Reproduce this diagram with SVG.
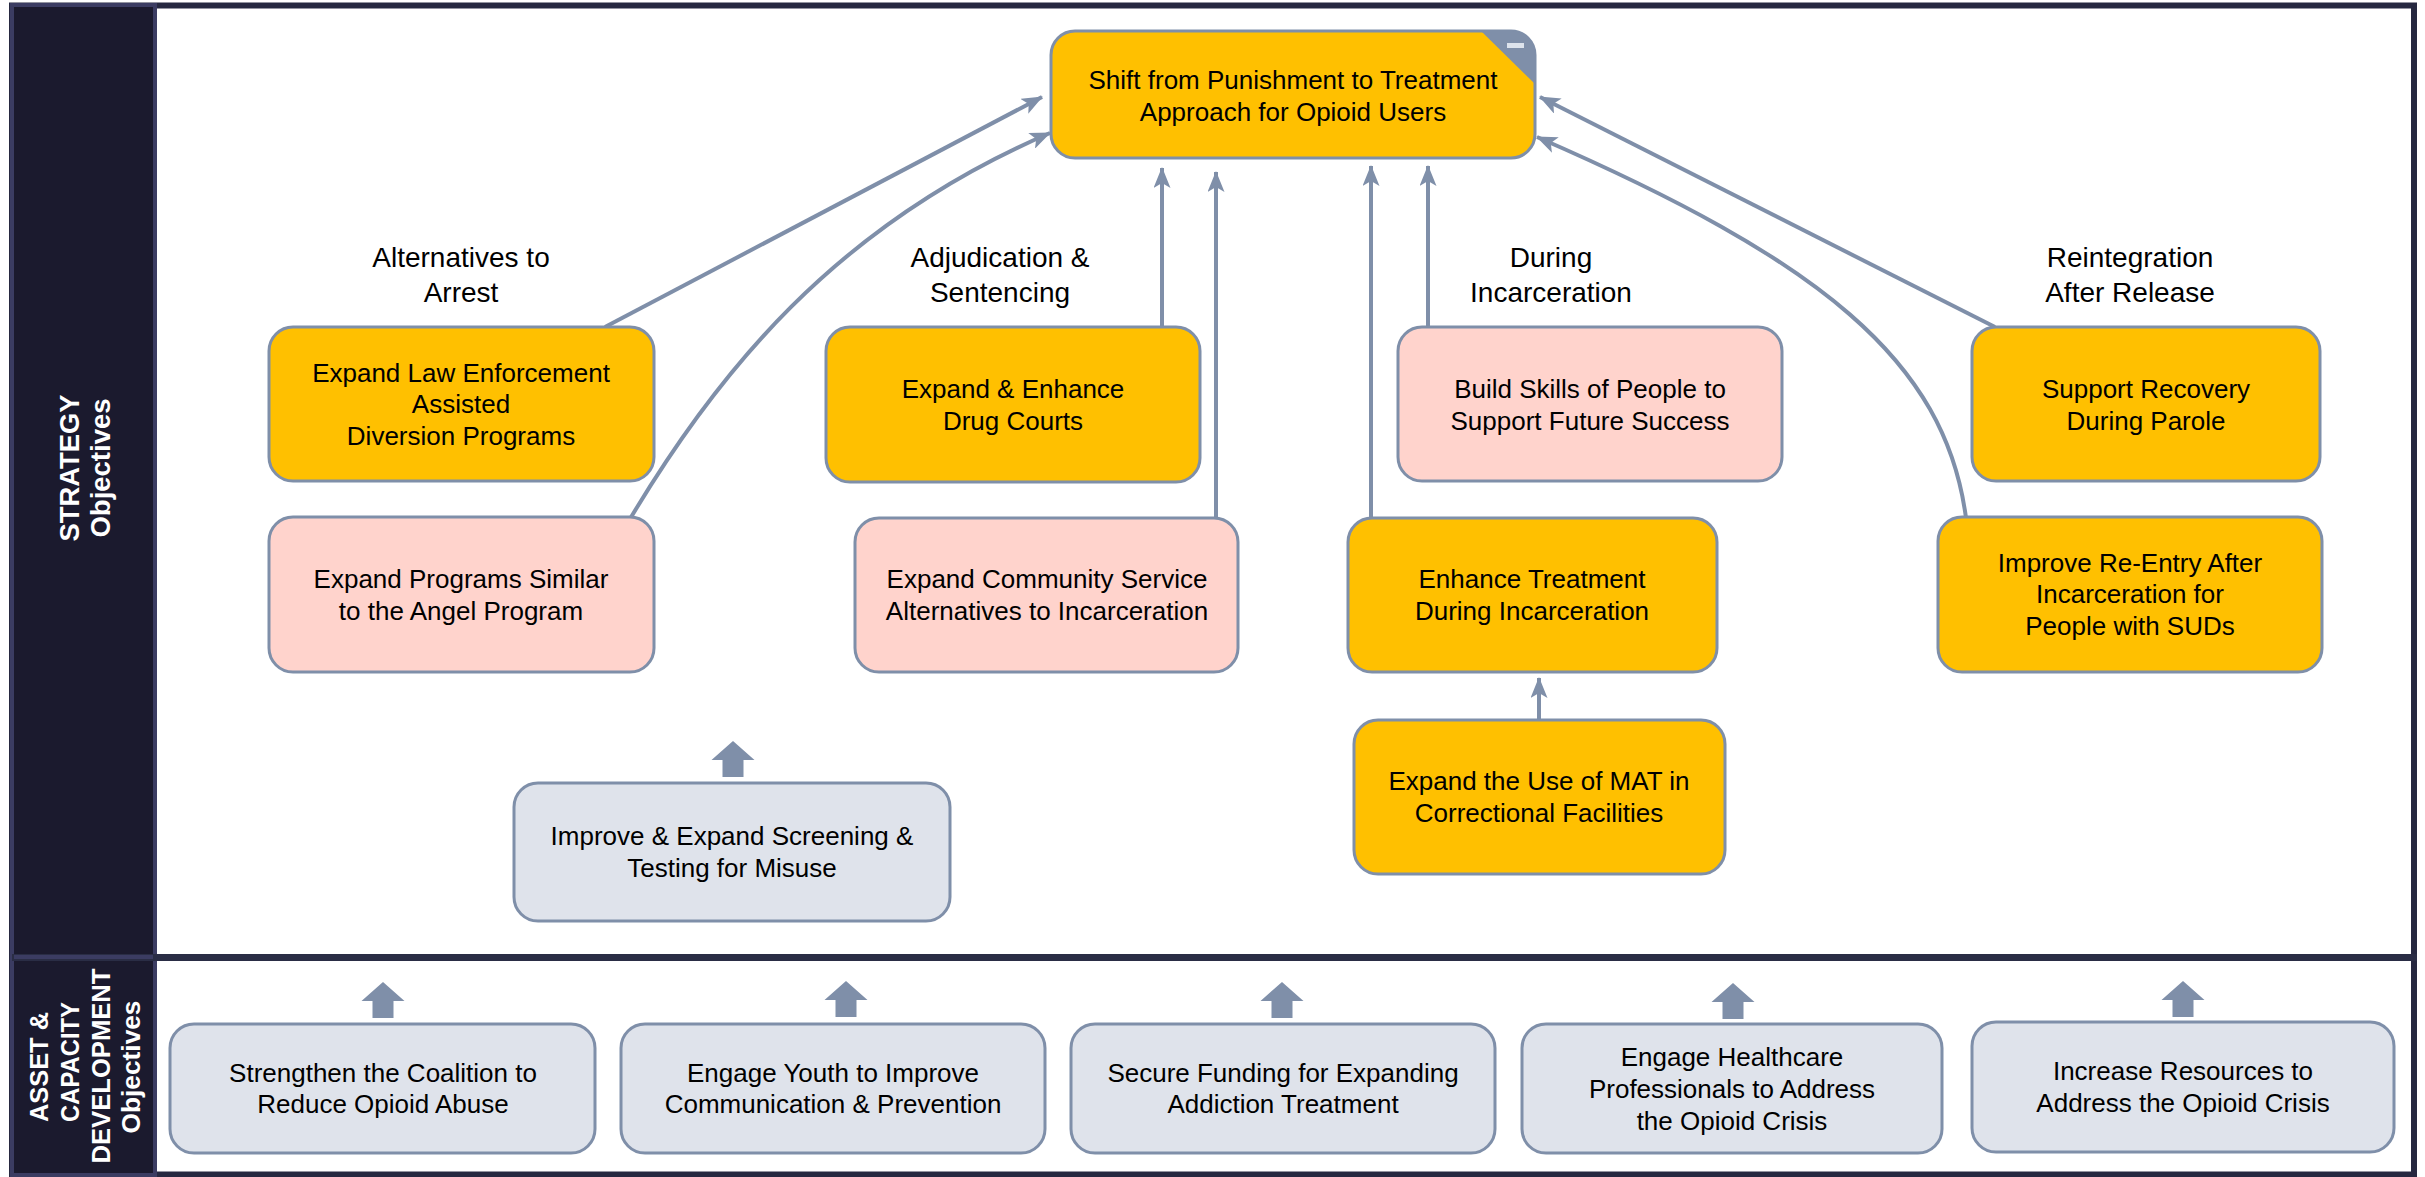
<svg xmlns="http://www.w3.org/2000/svg" xmlns:xlink="http://www.w3.org/1999/xlink" width="2425" height="1177" viewBox="0 0 2425 1177">
<style>
.nd{stroke:#7F8FA9;stroke-width:3}
.gold{fill:#FFC000}
.pink{fill:#FFD3CC}
.grey{fill:#DFE3EB}
.t{font-family:"Liberation Sans",Arial,sans-serif;font-size:26px;fill:#000;text-anchor:middle}
.lb{font-family:"Liberation Sans",Arial,sans-serif;font-size:28px;fill:#000;text-anchor:middle}
.side{font-family:"Liberation Sans",Arial,sans-serif;font-weight:bold;fill:#fff;text-anchor:middle}
.cn{fill:none;stroke:#7F8FA9;stroke-width:4;marker-end:url(#ah)}
.blk{fill:#7F8FA9}
</style>
<defs>
<marker id="ah" markerUnits="userSpaceOnUse" markerWidth="21" markerHeight="17" refX="20" refY="8.5" orient="auto">
<path d="M0,0 L21,8.5 L0,17 L5,8.5 Z" fill="#7F8FA9"/>
</marker>
<path id="blkarrow" d="M0,0 L21.5,19 L10.5,19 L10.5,36 L-10.5,36 L-10.5,19 L-21.5,19 Z"/>
</defs>
<rect x="0" y="0" width="2425" height="1177" fill="#fff"/>
<g id="frame">
<rect x="12" y="5.5" width="2402" height="1169" fill="#fff" stroke="#262840" stroke-width="6"/>
<rect x="12" y="5" width="143" height="1170" fill="#1B1A2E" stroke="#3B3C62" stroke-width="4"/>
<line x1="12" y1="957.5" x2="2417" y2="957.5" stroke="#2A2D45" stroke-width="7"/>
<line x1="14" y1="957" x2="153" y2="957" stroke="#3B3C62" stroke-width="4"/>
<text class="side" font-size="27" textLength="147" lengthAdjust="spacingAndGlyphs" transform="translate(79,468) rotate(-90)">STRATEGY</text>
<text class="side" font-size="27" textLength="139" lengthAdjust="spacingAndGlyphs" transform="translate(110,468) rotate(-90)">Objectives</text>
<text class="side" font-size="26" textLength="110" lengthAdjust="spacingAndGlyphs" transform="translate(48,1067) rotate(-90)">ASSET &amp;</text>
<text class="side" font-size="26" textLength="120" lengthAdjust="spacingAndGlyphs" transform="translate(79,1062) rotate(-90)">CAPACITY</text>
<text class="side" font-size="26" textLength="195" lengthAdjust="spacingAndGlyphs" transform="translate(110,1066) rotate(-90)">DEVELOPMENT</text>
<text class="side" font-size="26" textLength="133" lengthAdjust="spacingAndGlyphs" transform="translate(140,1067) rotate(-90)">Objectives</text>
</g>
<g id="labels">
<text class="lb" x="461" y="267">Alternatives to</text>
<text class="lb" x="461" y="302">Arrest</text>
<text class="lb" x="1000" y="267">Adjudication &amp;</text>
<text class="lb" x="1000" y="302">Sentencing</text>
<text class="lb" x="1551" y="267">During</text>
<text class="lb" x="1551" y="302">Incarceration</text>
<text class="lb" x="2130" y="267">Reintegration</text>
<text class="lb" x="2130" y="302">After Release</text>
</g>
<g id="connectors">
<path class="cn" d="M605,327 L1042,97"/>
<path class="cn" d="M627,524 C715,375 835,225 1050,133"/>
<path class="cn" d="M1162,327 L1162,168"/>
<path class="cn" d="M1216,518 L1216,172"/>
<path class="cn" d="M1371,518 L1371,166"/>
<path class="cn" d="M1428,327 L1428,166"/>
<path class="cn" d="M1995,327 L1540,97"/>
<path class="cn" d="M1966,518 C1945,360 1820,260 1537,137"/>
<path class="cn" d="M1539,720 L1539,678"/>
<use xlink:href="#blkarrow" class="blk" x="733" y="741"/>
<use xlink:href="#blkarrow" class="blk" x="383" y="982"/>
<use xlink:href="#blkarrow" class="blk" x="846" y="981"/>
<use xlink:href="#blkarrow" class="blk" x="1282" y="982"/>
<use xlink:href="#blkarrow" class="blk" x="1733" y="983"/>
<use xlink:href="#blkarrow" class="blk" x="2183" y="981"/>
</g>
<g id="node-top">
<rect class="nd gold" x="1051" y="31" width="484" height="127" rx="24"/>
<path d="M1481,31 L1511,31 A24,24 0 0 1 1535,55 L1535,84 Z" fill="#7F8FA9"/>
<rect x="1507" y="43" width="17" height="5" fill="#DDE3EC"/>
<text class="t" x="1293" y="89">Shift from Punishment to Treatment</text>
<text class="t" x="1293" y="121">Approach for Opioid Users</text>
</g>
<g id="node-lawenf">
<rect class="nd gold" x="269" y="327" width="385" height="154" rx="24"/>
<text class="t" x="461" y="382">Expand Law Enforcement</text>
<text class="t" x="461" y="413">Assisted</text>
<text class="t" x="461" y="445">Diversion Programs</text>
</g>
<g id="node-drug">
<rect class="nd gold" x="826" y="327" width="374" height="155" rx="24"/>
<text class="t" x="1013" y="398">Expand &amp; Enhance</text>
<text class="t" x="1013" y="430">Drug Courts</text>
</g>
<g id="node-skills">
<rect class="nd pink" x="1398" y="327" width="384" height="154" rx="24"/>
<text class="t" x="1590" y="398">Build Skills of People to</text>
<text class="t" x="1590" y="430">Support Future Success</text>
</g>
<g id="node-recovery">
<rect class="nd gold" x="1972" y="327" width="348" height="154" rx="24"/>
<text class="t" x="2146" y="398">Support Recovery</text>
<text class="t" x="2146" y="430">During Parole</text>
</g>
<g id="node-angel">
<rect class="nd pink" x="269" y="517" width="385" height="155" rx="24"/>
<text class="t" x="461" y="588">Expand Programs Similar</text>
<text class="t" x="461" y="620">to the Angel Program</text>
</g>
<g id="node-community">
<rect class="nd pink" x="855" y="518" width="383" height="154" rx="24"/>
<text class="t" x="1047" y="588">Expand Community Service</text>
<text class="t" x="1047" y="620">Alternatives to Incarceration</text>
</g>
<g id="node-enhance">
<rect class="nd gold" x="1348" y="518" width="369" height="154" rx="24"/>
<text class="t" x="1532" y="588">Enhance Treatment</text>
<text class="t" x="1532" y="620">During Incarceration</text>
</g>
<g id="node-reentry">
<rect class="nd gold" x="1938" y="517" width="384" height="155" rx="24"/>
<text class="t" x="2130" y="572">Improve Re-Entry After</text>
<text class="t" x="2130" y="603">Incarceration for</text>
<text class="t" x="2130" y="635">People with SUDs</text>
</g>
<g id="node-mat">
<rect class="nd gold" x="1354" y="720" width="371" height="154" rx="24"/>
<text class="t" x="1539" y="790">Expand the Use of MAT in</text>
<text class="t" x="1539" y="822">Correctional Facilities</text>
</g>
<g id="node-screening">
<rect class="nd grey" x="514" y="783" width="436" height="138" rx="24"/>
<text class="t" x="732" y="845">Improve &amp; Expand Screening &amp;</text>
<text class="t" x="732" y="877">Testing for Misuse</text>
</g>
<g id="node-coalition">
<rect class="nd grey" x="170" y="1024" width="425" height="129" rx="24"/>
<text class="t" x="383" y="1082">Strengthen the Coalition to</text>
<text class="t" x="383" y="1113">Reduce Opioid Abuse</text>
</g>
<g id="node-youth">
<rect class="nd grey" x="621" y="1024" width="424" height="129" rx="24"/>
<text class="t" x="833" y="1082">Engage Youth to Improve</text>
<text class="t" x="833" y="1113">Communication &amp; Prevention</text>
</g>
<g id="node-funding">
<rect class="nd grey" x="1071" y="1024" width="424" height="129" rx="24"/>
<text class="t" x="1283" y="1082">Secure Funding for Expanding</text>
<text class="t" x="1283" y="1113">Addiction Treatment</text>
</g>
<g id="node-healthcare">
<rect class="nd grey" x="1522" y="1024" width="420" height="129" rx="24"/>
<text class="t" x="1732" y="1066">Engage Healthcare</text>
<text class="t" x="1732" y="1098">Professionals to Address</text>
<text class="t" x="1732" y="1130">the Opioid Crisis</text>
</g>
<g id="node-resources">
<rect class="nd grey" x="1972" y="1022" width="422" height="130" rx="24"/>
<text class="t" x="2183" y="1080">Increase Resources to</text>
<text class="t" x="2183" y="1112">Address the Opioid Crisis</text>
</g>
</svg>
